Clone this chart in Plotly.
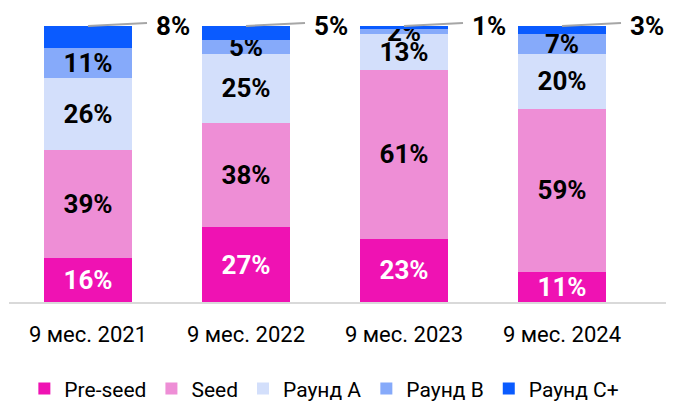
import plotly.graph_objects as go

categories = ["9 мес. 2021", "9 мес. 2022", "9 мес. 2023", "9 мес. 2024"]
series_names = ["Pre-seed", "Seed", "Раунд А", "Раунд В", "Раунд С+"]
pre_seed = [16, 27, 23, 11]
seed = [39, 38, 61, 59]
round_a = [26, 25, 13, 20]
round_b = [11, 5, 2, 7]
round_c = [8, 5, 1, 3]

colors = ["#EF12B3", "#EE8ED6", "#D3DFFB", "#86AAFA", "#0A5BFF"]
text_colors = ["#FFFFFF", "#000000", "#000000", "#000000", "#000000"]
all_series = [pre_seed, seed, round_a, round_b, round_c]

FONT = "Roboto"
fig = go.Figure()
for i, (name, vals) in enumerate(zip(series_names, all_series)):
    inside = i < 4
    fig.add_trace(go.Bar(
        name=name, x=categories, y=vals,
        marker=dict(color=colors[i], line=dict(width=0)),
        text=[f"{v}%" for v in vals] if inside else None,
        texttemplate="%{text}" if inside else None,
        textposition="inside" if inside else "none",
        insidetextanchor="middle",
        textangle=0,
        textfont=dict(family=FONT, size=26, color=text_colors[i], weight="bold"),
        width=0.555,
        hoverinfo="skip",
    ))

# outside labels with leader lines for Round C+
for i, v in enumerate(round_c):
    fig.add_shape(type="line", xref="x", yref="paper",
                  xsizemode="pixel", ysizemode="pixel",
                  xanchor=i, yanchor=1,
                  x0=0, x1=59, y0=0, y1=3,
                  line=dict(color="#A6A6A6", width=2))
    fig.add_annotation(x=i, y=1, xref="x", yref="paper", text=f"{v}%",
                       showarrow=False, xanchor="left", yanchor="middle",
                       xshift=66, yshift=0,
                       font=dict(family=FONT, size=26, color="#000000", weight="bold"))

fig.update_layout(
    barmode="stack",
    width=688, height=402,
    margin=dict(l=9, r=22, t=26, b=100, autoexpand=False),
    plot_bgcolor="white", paper_bgcolor="white",
    uniformtext=dict(minsize=26, mode="show"),
    showlegend=True,
    legend=dict(orientation="h", x=0.48, xanchor="center", y=-0.24, yanchor="top",
                font=dict(family=FONT, size=21, color="#000000"),
                traceorder="normal", itemwidth=30, tracegroupgap=0),
    font=dict(family=FONT),
)
fig.update_xaxes(showline=True, linecolor="#D9D9D9", linewidth=2,
                 showgrid=False, ticks="", ticklabelstandoff=12,
                 tickfont=dict(family=FONT, size=22, color="#000000"))
fig.update_yaxes(range=[0, 100], visible=False, showgrid=False)

fig.write_html("out.html", config={"displayModeBar": False},
               post_script="document.body.style.margin='0';")
